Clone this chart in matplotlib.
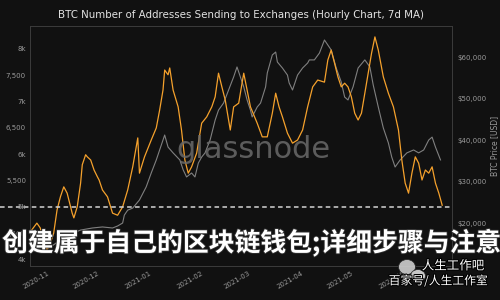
import matplotlib
matplotlib.use("Agg")
import matplotlib.pyplot as plt
import matplotlib.dates as mdates
import matplotlib.ticker as mticker
import matplotlib.patheffects as pe
from matplotlib.patches import Ellipse
import pandas as pd

# ---------------- data ----------------
addr_dates = [
    "2020-10-22", "2020-10-26", "2020-10-28", "2020-10-30", "2020-11-01", "2020-11-03",
    "2020-11-05", "2020-11-07", "2020-11-09", "2020-11-11", "2020-11-13", "2020-11-16",
    "2020-11-17", "2020-11-19", "2020-11-21", "2020-11-22", "2020-11-24", "2020-11-25",
    "2020-11-27", "2020-11-29", "2020-12-01", "2020-12-02", "2020-12-04", "2020-12-07",
    "2020-12-10", "2020-12-13", "2020-12-16", "2020-12-19", "2020-12-22", "2020-12-25",
    "2020-12-26", "2020-12-29", "2021-01-02", "2021-01-05", "2021-01-07", "2021-01-09",
    "2021-01-10", "2021-01-12", "2021-01-13", "2021-01-15", "2021-01-18", "2021-01-20",
    "2021-01-22", "2021-01-24", "2021-01-26", "2021-01-29", "2021-02-01", "2021-02-04",
    "2021-02-07", "2021-02-09", "2021-02-11", "2021-02-13", "2021-02-15", "2021-02-18",
    "2021-02-20", "2021-02-23", "2021-02-26", "2021-02-28", "2021-03-02", "2021-03-06",
    "2021-03-09", "2021-03-12", "2021-03-15", "2021-03-17", "2021-03-19", "2021-03-21",
    "2021-03-24", "2021-03-27", "2021-03-30", "2021-04-02", "2021-04-05", "2021-04-08",
    "2021-04-11", "2021-04-15", "2021-04-17", "2021-04-19", "2021-04-21", "2021-04-23",
    "2021-04-25", "2021-04-27", "2021-04-29", "2021-05-01", "2021-05-03", "2021-05-05",
    "2021-05-07", "2021-05-10", "2021-05-13", "2021-05-15", "2021-05-17", "2021-05-20",
    "2021-05-23", "2021-05-26", "2021-05-29", "2021-05-31", "2021-06-02", "2021-06-04",
    "2021-06-06", "2021-06-08", "2021-06-10", "2021-06-12", "2021-06-14", "2021-06-16",
    "2021-06-18", "2021-06-20", "2021-06-22", "2021-06-24",
]
addr_values = [
    4520, 4690, 4600, 4330, 4180, 4310,
    4500, 4940, 5190, 5380, 5260, 4880,
    4790, 5000, 5450, 5800, 5990, 5950,
    5890, 5700, 5570, 5510, 5320, 5190,
    4880, 4840, 5000, 5320, 5760, 6310,
    5640, 5950, 6270, 6500, 6840, 7220,
    7600, 7510, 7640, 7220, 6900, 6460,
    5890, 5640, 5760, 6020, 6590, 6710,
    6900, 7090, 7540, 7280, 7030, 6460,
    6900, 6970, 7540, 7220, 6900, 6590,
    6330, 6330, 6780, 7160, 6900, 6710,
    6400, 6210, 6270, 6460, 6900, 7280,
    7410, 7370, 7790, 7980, 7730, 7470,
    7280, 7350, 7280, 7090, 6780, 6650,
    6780, 7350, 7920, 8230, 7980, 7470,
    7160, 6900, 6460, 5890, 5450, 5260,
    5640, 5950, 5830, 5510, 5700, 5640,
    5760, 5450, 5260, 5030,
]

price_dates = [
    "2020-10-22", "2020-10-28", "2020-11-03", "2020-11-09", "2020-11-15", "2020-11-21",
    "2020-11-28", "2020-12-04", "2020-12-10", "2020-12-13", "2020-12-16", "2020-12-17",
    "2020-12-19", "2020-12-22", "2020-12-26", "2020-12-30", "2021-01-02", "2021-01-05",
    "2021-01-08", "2021-01-10", "2021-01-12", "2021-01-15", "2021-01-19", "2021-01-21",
    "2021-01-23", "2021-01-26", "2021-01-28", "2021-01-30", "2021-02-01", "2021-02-03",
    "2021-02-06", "2021-02-09", "2021-02-11", "2021-02-14", "2021-02-17", "2021-02-20",
    "2021-02-22", "2021-02-24", "2021-02-26", "2021-02-28", "2021-03-02", "2021-03-03",
    "2021-03-06", "2021-03-08", "2021-03-11", "2021-03-12", "2021-03-15", "2021-03-17",
    "2021-03-18", "2021-03-21", "2021-03-24", "2021-03-25", "2021-03-27", "2021-03-30",
    "2021-04-02", "2021-04-05", "2021-04-06", "2021-04-09", "2021-04-12", "2021-04-15",
    "2021-04-17", "2021-04-19", "2021-04-22", "2021-04-25", "2021-04-27", "2021-04-29",
    "2021-05-02", "2021-05-05", "2021-05-09", "2021-05-12", "2021-05-14", "2021-05-17",
    "2021-05-20", "2021-05-23", "2021-05-25", "2021-05-27", "2021-05-30", "2021-06-03",
    "2021-06-07", "2021-06-10", "2021-06-13", "2021-06-16", "2021-06-18", "2021-06-20",
    "2021-06-23",
]
price_values = [
    13000, 13500, 14200, 15900, 17350, 18300,
    18800, 19050, 18800, 19280, 20000, 21900,
    23100, 23600, 25550, 28700, 32050, 35200,
    38800, 41200, 38300, 36900, 35200, 32800,
    31100, 32050, 31100, 34450, 35900, 36900,
    40000, 44800, 47200, 48900, 52050, 55200,
    57600, 55200, 52800, 49650, 47200, 45550,
    47950, 48900, 52800, 56150, 60500, 61200,
    58800, 57350, 55650, 53750, 52050, 55650,
    57350, 58550, 59300, 59300, 60950, 64100,
    62900, 61700, 57350, 53950, 50350, 49650,
    52800, 57350, 59300, 57600, 53250, 47950,
    42900, 39300, 35900, 33500, 35200, 36900,
    37600, 36900, 37600, 40000, 40700, 38300,
    35200,
]

left_ticks = [4000, 4500, 5000, 5500, 6000, 6500, 7000, 7500, 8000]
left_tick_labels = ["4k", "4,500", "5k", "5,500", "6k", "6,500", "7k", "7,500", "8k"]
right_ticks = [20000, 30000, 40000, 50000, 60000]
right_tick_labels = ["$20,000", "$30,000", "$40,000", "$50,000", "$60,000"]
reference_level = 5000

title_text = "BTC Number of Addresses Sending to Exchanges (Hourly Chart, 7d MA)"
right_label = "BTC Price [USD]"
overlay_text = "创建属于自己的区块链钱包;详细步骤与注意"
watermark_text = "glassnode"
credit_line1 = "人生工作吧"
credit_line2 = "百家号/人生工作室"

# ---------------- style ----------------
BG = "#111111"
ORANGE = "#f5a12c"
GREY = "#8c8c8c"
TICK = "#9a9a9a"
SPINE = "#3c3c3c"
CJK = ["Noto Sans CJK SC", "DejaVu Sans"]

fig = plt.figure(figsize=(5, 3), dpi=100, facecolor=BG)
ax = fig.add_axes([0.06, 0.1133, 0.844, 0.80])
ax2 = ax.twinx()

ad = pd.to_datetime(addr_dates)
pdts = pd.to_datetime(price_dates)

ax2.plot(pdts, price_values, color=GREY, lw=0.8, alpha=0.9)
ax.plot(ad, addr_values, color=ORANGE, lw=0.9)

ax.set_zorder(ax2.get_zorder() + 1)
ax.patch.set_visible(False)

ax.set_xlim(pd.Timestamp("2020-10-21 22:00"), pd.Timestamp("2021-06-29 20:00"))
ax.set_ylim(3875, 8437)
ax2.set_ylim(9640, 67470)

ax.yaxis.set_major_locator(mticker.FixedLocator(left_ticks))
ax.yaxis.set_major_formatter(mticker.FixedFormatter(left_tick_labels))
ax2.yaxis.set_major_locator(mticker.FixedLocator(right_ticks))
ax2.yaxis.set_major_formatter(mticker.FixedFormatter(right_tick_labels))

ax.xaxis.set_major_locator(mdates.MonthLocator())
ax.xaxis.set_major_formatter(mdates.DateFormatter("%Y-%m"))

ax.tick_params(axis="y", length=0, labelsize=5, colors=TICK, pad=2.9)
ax.tick_params(axis="x", length=0, labelsize=5, colors=TICK, pad=3)
ax2.tick_params(axis="y", length=0, labelsize=5, colors=TICK, pad=3.6)
plt.setp(ax.get_xticklabels(), rotation=30, ha="right", rotation_mode="anchor")

for a in (ax, ax2):
    for s in a.spines.values():
        s.set_color(SPINE)
        s.set_linewidth(0.6)

ax2.set_ylabel(right_label, color=TICK, fontsize=5.5, labelpad=3)

ax.set_title(title_text, color="#e2e2e2", fontsize=7.4, pad=6)

# dashed reference line (extends to the left edge of the image)
ax.axhline(reference_level, xmin=-0.072, xmax=1.0, clip_on=False,
           color="#d4d4d4", lw=1.1, ls=(0, (3, 2.2)), zorder=5)

# watermark
fig.text(253 / 500, 1 - 150 / 300, watermark_text, fontsize=22, color="#6a6a6a",
         alpha=0.85, ha="center", va="center", zorder=6)

# overlay caption
fig.text(0.004, 1 - 243 / 300, overlay_text, fontsize=18.6, family=CJK,
         weight="bold", color="white", ha="left", va="center", zorder=10,
         path_effects=[pe.withStroke(linewidth=1.2, foreground="#333333")])

# credit watermark with small chat-bubble icon
fig.patches.append(Ellipse((407 / 500, 1 - 267 / 300), 17 / 500, 15 / 300,
                           transform=fig.transFigure, facecolor="#cfcfcf",
                           edgecolor="#222222", lw=0.6, alpha=0.9, zorder=11))
fig.patches.append(Ellipse((418 / 500, 1 - 276 / 300), 15 / 500, 13 / 300,
                           transform=fig.transFigure, facecolor="#dcdcdc",
                           edgecolor="#222222", lw=0.6, alpha=0.9, zorder=12))
fig.text(453 / 500, 1 - 266 / 300, credit_line1, fontsize=9, family=CJK,
         color="white", ha="center", va="center", zorder=13,
         path_effects=[pe.withStroke(linewidth=1.5, foreground="black")])
fig.text(438 / 500, 1 - 281 / 300, credit_line2, fontsize=8.5, family=CJK,
         color="white", ha="center", va="center", zorder=13,
         path_effects=[pe.withStroke(linewidth=1.5, foreground="black")])

fig.savefig("out.png", dpi=100, facecolor=BG)
